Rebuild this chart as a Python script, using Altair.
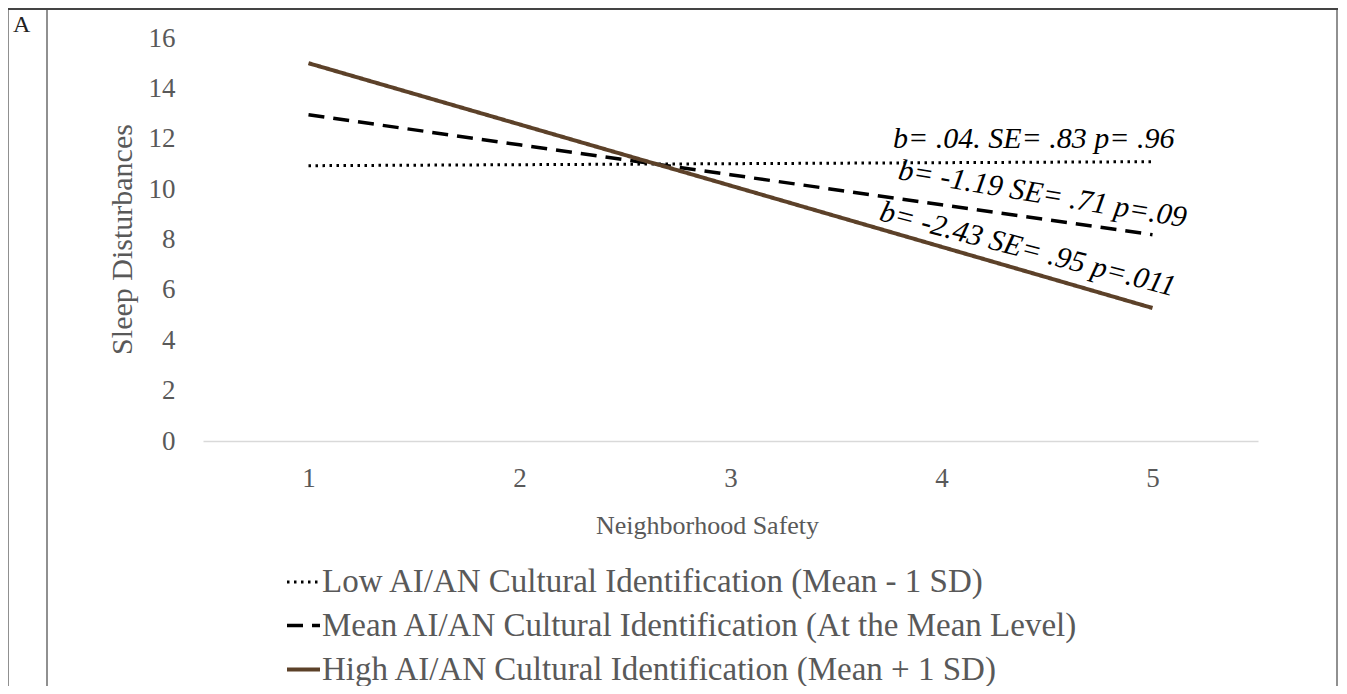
import altair as alt
import pandas as pd

# ---- data ----
safety = [1, 2, 3, 4, 5]
low_vals = [10.93, 10.97, 11.01, 11.05, 11.09]
mean_vals = [12.95, 11.76, 10.57, 9.38, 8.19]
high_vals = [15.00, 12.57, 10.14, 7.71, 5.28]

groups = [
    "Low AI/AN Cultural Identification (Mean - 1 SD)",
    "Mean AI/AN Cultural Identification (At the Mean Level)",
    "High AI/AN Cultural Identification (Mean + 1 SD)",
]

annot_text = [
    "b= .04. SE= .83 p= .96",
    "b= -1.19 SE= .71 p=.09",
    "b= -2.43 SE= .95  p=.011",
]
annot_x = [3.77, 3.79, 3.70]
annot_y = [11.63, 10.40, 8.77]
annot_angle = [0, 9.5, 14.5]

y_ticks = [0, 2, 4, 6, 8, 10, 12, 14, 16]

FONT = "Liberation Serif"
GREY = "#595959"

rows = []
for g, vals in zip(groups, [low_vals, mean_vals, high_vals]):
    for s, v in zip(safety, vals):
        rows.append({"safety": s, "value": v, "group": g})
df = pd.DataFrame(rows)

ann = pd.DataFrame({"text": annot_text, "x": annot_x, "y": annot_y, "angle": annot_angle})

x_scale = alt.Scale(domain=[0.5, 5.5], nice=False, zero=False)
y_scale = alt.Scale(domain=[0, 16], nice=False)

legend_kw = dict(title=None, orient="none", legendX=82, legendY=526,
                 symbolType="stroke", symbolSize=1089, symbolStrokeWidth=3,
                 labelFont=FONT, labelFontSize=33, labelColor=GREY,
                 labelLimit=0, labelOffset=0, rowPadding=8, padding=0)

lines = alt.Chart(df).mark_line(strokeCap="butt").encode(
    x=alt.X("safety:Q", scale=x_scale,
            axis=alt.Axis(values=safety, title="Neighborhood Safety", grid=False, ticks=False,
                          domainColor="#d9d9d9", domainWidth=1.5,
                          labelFont=FONT, labelFontSize=27, labelColor=GREY, labelPadding=24,
                          titleFont=FONT, titleFontSize=26, titleColor=GREY, titleFontWeight="normal",
                          titleX=504, titleY=84, titleAlign="center", titleBaseline="middle",
                          format="d")),
    y=alt.Y("value:Q", scale=y_scale,
            axis=alt.Axis(values=y_ticks, title="Sleep Disturbances", grid=False, ticks=False, domain=False,
                          labelFont=FONT, labelFontSize=27, labelColor=GREY, labelPadding=28,
                          titleFont=FONT, titleFontSize=30, titleColor=GREY, titleFontWeight="normal",
                          titleX=-81, titleY=201, titleAlign="center", titleBaseline="middle",
                          titleAngle=270)),
    color=alt.Color("group:N", scale=alt.Scale(domain=groups, range=["#000000", "#000000", "#5c4129"]),
                    legend=alt.Legend(**legend_kw)),
    strokeDash=alt.StrokeDash("group:N", scale=alt.Scale(domain=groups, range=[[2.5, 4.5], [16, 9], [1, 0]]),
                              legend=alt.Legend(**legend_kw)),
    strokeWidth=alt.StrokeWidth("group:N", scale=alt.Scale(domain=groups, range=[3, 4, 3]), legend=None),
)

texts = alt.Chart(ann).mark_text(font=FONT, fontSize=30, fontStyle="italic", align="left",
                                 baseline="alphabetic", color="#000000").encode(
    x=alt.X("x:Q", scale=x_scale),
    y=alt.Y("y:Q", scale=y_scale),
    text="text:N",
    angle=alt.Angle("angle:Q", scale=None),
)

one = pd.DataFrame({"k": [0]})
frame_color = "#6b6b6b"
left_border = alt.Chart(one).mark_rule(color=frame_color, strokeWidth=1.5).encode(
    x=alt.value(-195), y=alt.value(-29), y2=alt.value(648))
divider = alt.Chart(one).mark_rule(color=frame_color, strokeWidth=1.5).encode(
    x=alt.value(-156), y=alt.value(-29), y2=alt.value(648))
right_border = alt.Chart(one).mark_rule(color=frame_color, strokeWidth=1.5).encode(
    x=alt.value(1134), y=alt.value(-29), y2=alt.value(648))
top_border = alt.Chart(one).mark_rule(color="#444444", strokeWidth=2).encode(
    x=alt.value(-195), x2=alt.value(1135), y=alt.value(-29))
panel_label = alt.Chart(one).mark_text(font=FONT, fontSize=24, align="left", baseline="alphabetic",
                                       color="#222222").encode(
    x=alt.value(-190), y=alt.value(-6), text=alt.value("A"))

chart = alt.layer(lines, texts, left_border, divider, right_border, top_border, panel_label).properties(
    width=1055, height=403,
    padding={"left": 195, "top": 30, "right": 81, "bottom": 245},
    autosize=alt.AutoSizeParams(type="none"),
).configure(background="white").configure_view(stroke=None, strokeWidth=0)

chart.save("out.html", embed_options={"renderer": "svg", "actions": False})
